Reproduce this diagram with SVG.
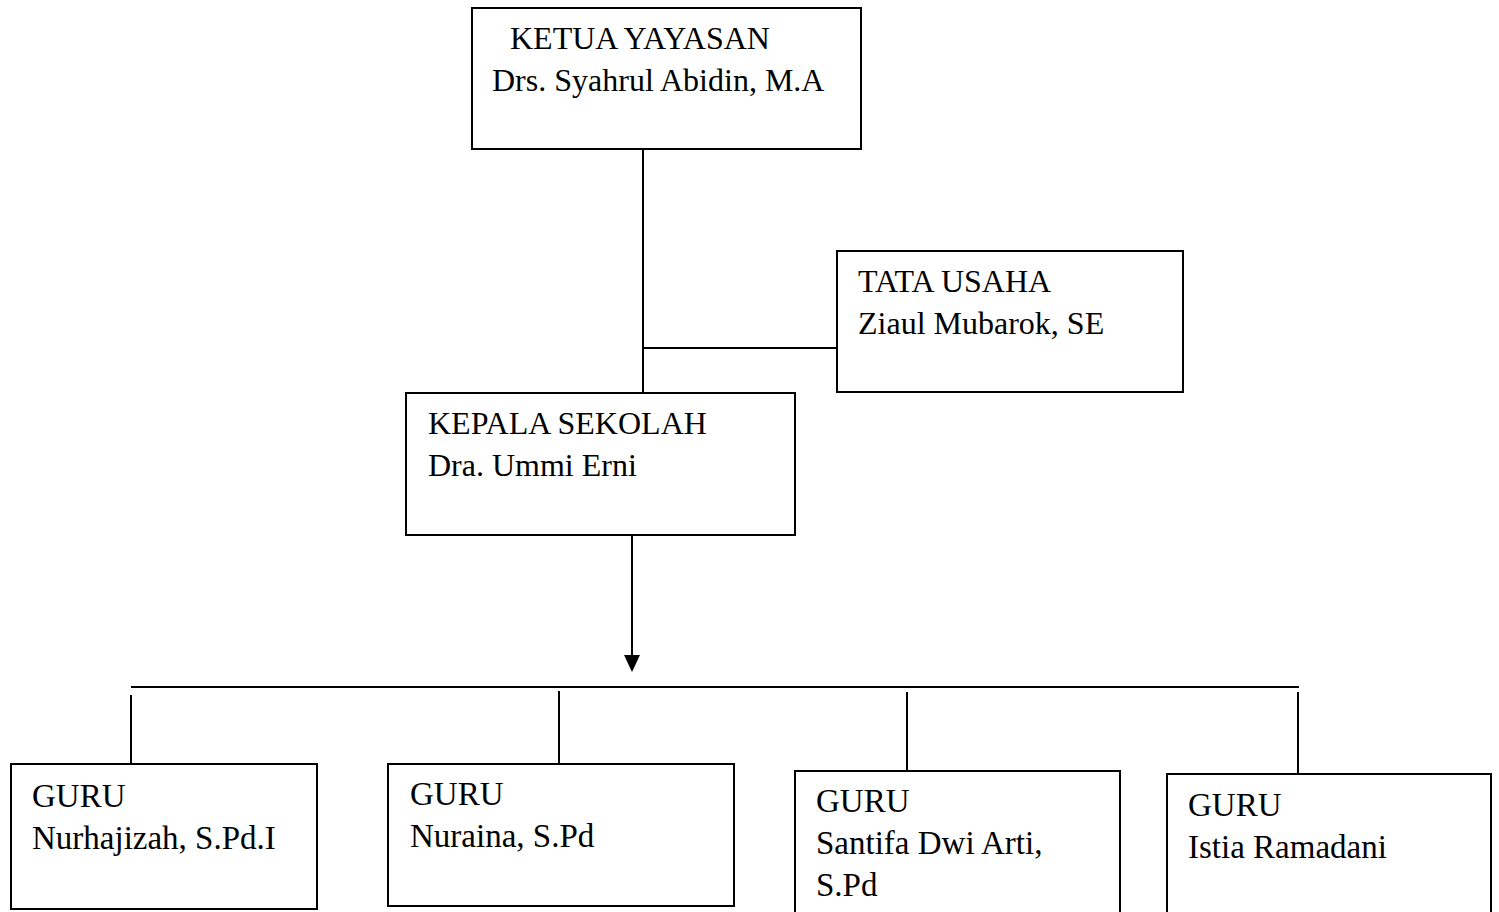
<svg xmlns="http://www.w3.org/2000/svg" width="1499" height="912" viewBox="0 0 1499 912">
<style>
.box{fill:#fff;stroke:#000;stroke-width:2}
.t{font-family:"Liberation Serif","Times New Roman",serif;font-size:32px;fill:#000}
.b{font-size:33px}
.c{stroke:#000;stroke-width:2;fill:none}
</style>
<rect width="1499" height="912" fill="#fff"/>
<g id="connectors">
<line class="c" x1="643" y1="149" x2="643" y2="393"/>
<line class="c" x1="643" y1="348" x2="837" y2="348"/>
<path class="c" d="M632,535 L632,656"/>
<path d="M624,655 L640,655 L632,672 z" fill="#000"/>
<line class="c" x1="131" y1="687" x2="1299" y2="687"/>
<line class="c" x1="131" y1="695" x2="131" y2="764"/>
<line class="c" x1="559" y1="691" x2="559" y2="764"/>
<line class="c" x1="907" y1="692" x2="907" y2="771"/>
<line class="c" x1="1298" y1="692" x2="1298" y2="774"/>
</g>
<g id="ketua">
<rect class="box" x="472" y="8" width="389" height="141"/>
<text class="t" x="510" y="49">KETUA YAYASAN</text>
<text class="t" x="492" y="91">Drs. Syahrul Abidin, M.A</text>
</g>
<g id="tatausaha">
<rect class="box" x="837" y="251" width="346" height="141"/>
<text class="t" x="858" y="292">TATA USAHA</text>
<text class="t" x="858" y="334">Ziaul Mubarok, SE</text>
</g>
<g id="kepala">
<rect class="box" x="406" y="393" width="389" height="142"/>
<text class="t" x="428" y="434">KEPALA SEKOLAH</text>
<text class="t" x="428" y="476">Dra. Ummi Erni</text>
</g>
<g id="guru1">
<rect class="box" x="11" y="764" width="306" height="145"/>
<text class="t b" x="32" y="807">GURU</text>
<text class="t b" x="32" y="849">Nurhajizah, S.Pd.I</text>
</g>
<g id="guru2">
<rect class="box" x="388" y="764" width="346" height="142"/>
<text class="t b" x="410" y="805">GURU</text>
<text class="t b" x="410" y="847">Nuraina, S.Pd</text>
</g>
<g id="guru3">
<rect class="box" x="795" y="771" width="325" height="150"/>
<text class="t b" x="816" y="812">GURU</text>
<text class="t b" x="816" y="854">Santifa Dwi Arti,</text>
<text class="t b" x="816" y="896">S.Pd</text>
</g>
<g id="guru4">
<rect class="box" x="1167" y="774" width="324" height="150"/>
<text class="t b" x="1188" y="816">GURU</text>
<text class="t b" x="1188" y="858">Istia Ramadani</text>
</g>
</svg>
